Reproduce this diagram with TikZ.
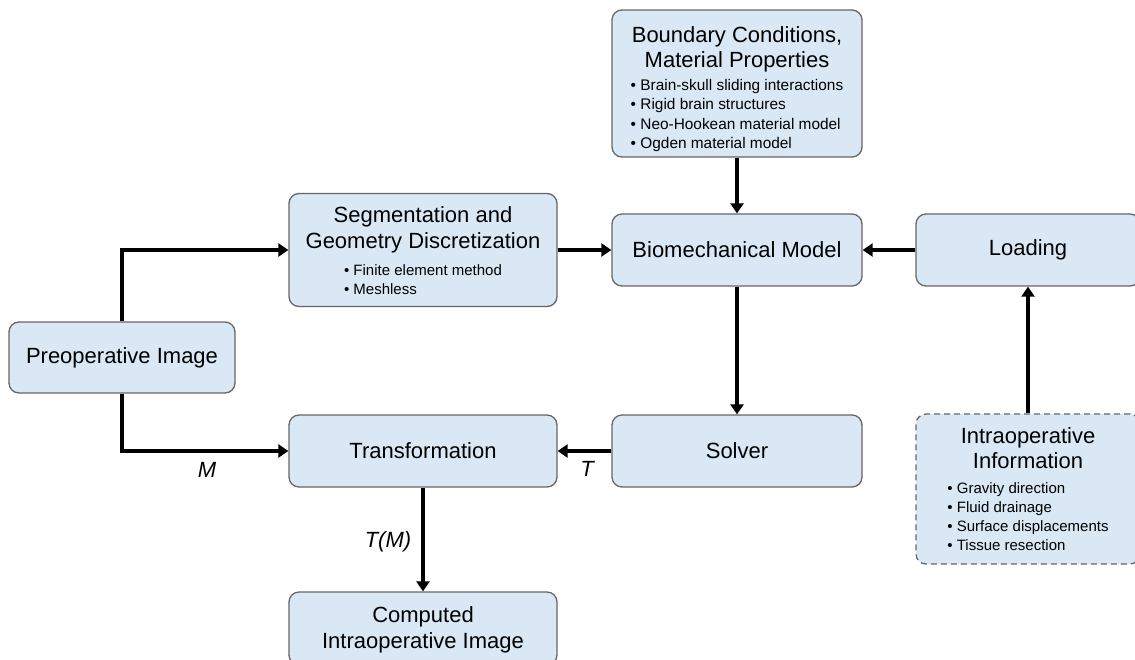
\documentclass[tikz,border=0pt]{standalone}
\usepackage{fontspec}
\setmainfont{Liberation Sans}
\usetikzlibrary{arrows.meta}
\definecolor{boxfill}{HTML}{DAE8F5}
\definecolor{boxdraw}{HTML}{666666}
\begin{document}
\begin{tikzpicture}[x=1pt,y=-1pt,
  box/.style={draw=boxdraw, fill=boxfill, line width=1.3pt, rounded corners=10pt, inner sep=0pt},
  dbox/.style={box, dash pattern=on 6pt off 4pt},
  ttl/.style={font=\fontsize{22}{26}\selectfont, align=center, inner sep=0pt},
  tightttl/.style={font=\fontsize{22}{25}\selectfont, align=center, inner sep=0pt},
  items/.style={font=\fontsize{15}{19}\selectfont, align=left, inner sep=0pt},
  bigitems/.style={font=\fontsize{15.4}{19.2}\selectfont, align=left, inner sep=0pt},
  conn/.style={line width=4pt, -{Triangle[length=10pt,width=13pt]}},
  lab/.style={font=\fontsize{22}{26}\selectfont\itshape, inner sep=0pt}]
\clip (0,0) rectangle (1135,659);
\fill[white] (0,0) rectangle (1135,659);

% boxes
\node[box, minimum width=250pt, minimum height=147pt] (bc) at (737,83.5) {};
\node[tightttl] (bct) at (737,49) {Boundary Conditions,\\Material Properties};
\node[bigitems] (bci) at (737,115.5) {\textbullet\ Brain-skull sliding interactions\\\textbullet\ Rigid brain structures\\\textbullet\ Neo-Hookean material model\\\textbullet\ Ogden material model};

\node[box, minimum width=268pt, minimum height=113pt] (seg) at (423,250) {};
\node[ttl] (segt) at (423,230) {Segmentation and\\Geometry Discretization};
\node[items] (segi) at (423,280) {\textbullet\ Finite element method\\\textbullet\ Meshless};

\node[box, ttl, minimum width=250pt, minimum height=72pt] (bio) at (737,250) {Biomechanical Model};
\node[box, ttl, minimum width=224pt, minimum height=72pt] (ld) at (1028,250) {Loading};
\node[box, ttl, minimum width=226pt, minimum height=71pt] (pre) at (122,357.5) {Preoperative Image};
\node[box, ttl, minimum width=268pt, minimum height=72pt] (tr) at (423,451) {Transformation};
\node[box, ttl, minimum width=250pt, minimum height=72pt] (sol) at (737,451) {Solver};

\node[dbox, minimum width=224pt, minimum height=150pt] (io) at (1028,489) {};
\node[tightttl] (iot) at (1028,448.5) {Intraoperative\\Information};
\node[items] (ioi) at (1028,517) {\textbullet\ Gravity direction\\\textbullet\ Fluid drainage\\\textbullet\ Surface displacements\\\textbullet\ Tissue resection};

\node[box, minimum width=268pt, minimum height=73pt] (cp) at (423,628.5) {};
\node[ttl] (cpt) at (423,630) {Computed\\Intraoperative Image};

% connectors
\draw[conn] (bc.south) -- (bio.north);
\draw[conn] (seg.east) -- (bio.west);
\draw[conn] (ld.west) -- (bio.east);
\draw[conn] (io.north) -- (ld.south);
\draw[conn] (pre.north) |- (seg.west);
\draw[conn] (pre.south) |- (tr.west);
\draw[conn] (bio.south) -- (sol.north);
\draw[conn] (sol.west) -- (tr.east);
\draw[conn] (tr.south) -- (cp.north);

% labels
\node[lab] (lm) at (207,470) {M};
\node[lab] (lt) at (587,469) {T};
\node[lab] (ltm) at (388,542) {T(M)};
\end{tikzpicture}
\end{document}
